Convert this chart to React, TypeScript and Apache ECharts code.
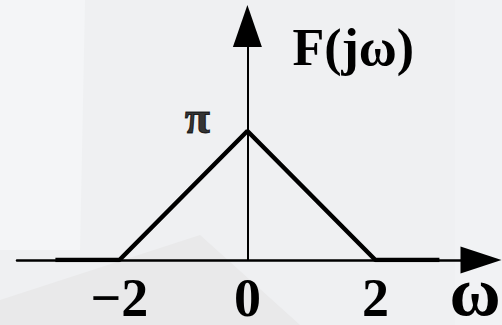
import React, { useEffect, useRef } from "react";
import * as echarts from "echarts";

// Triangular spectrum F(jω): zero outside |ω| ≥ 2, peak π at ω = 0
const omega = [-3, -2, 0, 2, 3];
const magnitude = [0, 0, Math.PI, 0, 0];
const peakText = "\u03c0";
const xTicks = [-2, 0, 2];
const xTickText = ["\u22122", "0", "2"];

const SERIF = "'Liberation Serif', 'Times New Roman', serif";

export default function App() {
  const ref = useRef<HTMLDivElement>(null);

  useEffect(() => {
    if (!ref.current) return;
    const chart = echarts.init(ref.current, null, { renderer: "svg" });

    const peak = Math.max(...magnitude);
    const points = omega.map((w, i) => [w, magnitude[i]]);
    const peakPoint = points.filter((p) => p[1] === peak);

    chart.setOption({
      animation: false,
      backgroundColor: "#eff0f2",
      graphic: [
        {
          type: "polygon",
          silent: true,
          z: -10,
          shape: { points: [[0, 0], [85, 0], [80, 250], [0, 250]] },
          style: { fill: "#f4f5f7" },
        },
        {
          type: "polygon",
          silent: true,
          z: -10,
          shape: { points: [[0, 300], [200, 235], [300, 325], [0, 325]] },
          style: { fill: "#e9e9ea" },
        },
        {
          type: "polygon",
          silent: true,
          z: -10,
          shape: { points: [[455, 0], [502, 0], [502, 325], [455, 325]] },
          style: { fill: "#f1f2f4" },
        },
      ],
      grid: {
        left: 17,
        right: 21,
        top: 26,
        bottom: 65,
        containLabel: false,
        outerBoundsMode: "none",
      },
      xAxis: {
        type: "value",
        min: -3.6,
        max: 3.65,
        name: "\u03c9",
        nameLocation: "end",
        nameGap: -6,
        nameTextStyle: {
          fontFamily: SERIF,
          fontWeight: "bold",
          fontSize: 70,
          lineHeight: 62,
          color: "#000",
          align: "center",
          verticalAlign: "top",
        },
        axisLine: {
          show: true,
          onZero: true,
          symbol: ["none", "triangle"],
          symbolSize: [27, 41],
          lineStyle: { color: "#000", width: 2.5 },
        },
        axisTick: { show: false },
        splitLine: { show: false },
        axisLabel: {
          customValues: xTicks,
          formatter: (v: number) => xTickText[xTicks.indexOf(v)] ?? "",
          fontFamily: SERIF,
          fontWeight: "bold",
          fontSize: 54,
          lineHeight: 40,
          color: "#000",
          margin: 18,
        },
      },
      yAxis: {
        type: "value",
        min: 0,
        max: 5.7,
        name: "F(j\u03c9)",
        nameLocation: "end",
        nameGap: 5,
        nameTextStyle: {
          fontFamily: SERIF,
          fontWeight: "bold",
          fontSize: 52,
          color: "#000",
          align: "left",
          verticalAlign: "top",
          padding: [0, 0, 0, 45],
        },
        axisLine: {
          show: true,
          onZero: true,
          symbol: ["none", "triangle"],
          symbolSize: [29, 42],
          lineStyle: { color: "#000", width: 2 },
        },
        axisTick: { show: false },
        splitLine: { show: false },
        axisLabel: { show: false },
      },
      series: [
        {
          type: "line",
          data: points,
          symbol: "none",
          lineStyle: { color: "#000", width: 4.5 },
          z: 3,
        },
        {
          // carries the peak-value label
          type: "scatter",
          data: peakPoint,
          symbol: "circle",
          symbolSize: 1,
          itemStyle: { color: "#000" },
          silent: true,
          z: 4,
          label: {
            show: true,
            formatter: peakText,
            position: "left",
            distance: 37,
            offset: [0, -14],
            fontFamily: SERIF,
            fontWeight: "bold",
            fontSize: 46,
            color: "#000",
            textBorderColor: "#000",
            textBorderWidth: 1,
          },
        },
      ],
    });

    return () => chart.dispose();
  }, []);

  return (
    <div
      ref={ref}
      style={{ position: "fixed", left: 0, top: 0, width: 502, height: 325 }}
    />
  );
}
